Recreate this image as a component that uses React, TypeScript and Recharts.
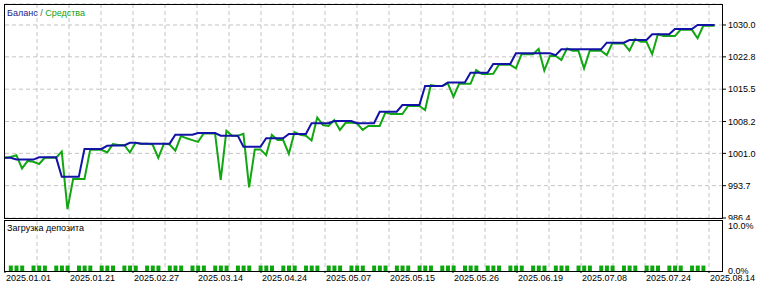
import React from "react";
import { LineChart, Line, XAxis, YAxis, CartesianGrid, BarChart, Bar } from "recharts";

// ---- data ----
const balance = [
  1000.0, 1000.0, 999.6, 999.6, 999.6, 999.6, 1000.1, 1000.1, 1000.1, 1000.1,
  995.7, 995.7, 995.7, 995.7, 1002.0, 1002.0, 1002.0, 1002.0, 1002.7, 1002.8,
  1002.8, 1002.8, 1003.4, 1003.4, 1003.2, 1003.2, 1003.2, 1003.2, 1003.2, 1003.2,
  1005.2, 1005.2, 1005.2, 1005.2, 1005.6, 1005.6, 1005.6, 1005.6, 1005.0, 1005.0,
  1005.0, 1005.0, 1002.5, 1002.5, 1002.5, 1002.5, 1004.4, 1004.4, 1004.4, 1004.4,
  1005.4, 1005.4, 1005.4, 1005.4, 1007.8, 1007.8, 1007.8, 1007.8, 1008.3, 1008.3,
  1008.3, 1008.3, 1007.8, 1007.8, 1007.8, 1007.8, 1010.4, 1010.4, 1010.4, 1010.4,
  1011.9, 1011.9, 1011.9, 1011.9, 1016.2, 1016.2, 1016.2, 1016.2, 1017.0, 1017.0,
  1017.0, 1017.0, 1019.2, 1019.2, 1019.2, 1019.2, 1021.2, 1021.2, 1021.2, 1021.2,
  1023.6, 1023.6, 1023.6, 1023.6, 1023.6, 1023.6, 1023.6, 1023.2, 1024.5, 1024.5,
  1024.5, 1024.5, 1024.5, 1024.5, 1024.5, 1024.5, 1026.0, 1026.0, 1026.0, 1026.0,
  1026.6, 1026.6, 1026.6, 1026.6, 1027.9, 1027.9, 1027.9, 1027.9, 1029.1, 1029.1,
  1029.1, 1029.1, 1030.0, 1030.0, 1030.0, 1030.0,
];

const equity = [
  1000.0, 1000.2, 1000.6, 997.6, 999.3, 999.1, 998.6, 1000.0, 1000.0, 1000.0,
  1001.4, 988.4, 995.2, 995.2, 995.2, 1001.8, 1001.8, 1001.8, 1001.2, 1003.1,
  1002.9, 1002.9, 1001.2, 1003.4, 1003.2, 1003.2, 1003.0, 1000.0, 1003.2, 1003.0,
  1001.6, 1004.9, 1004.4, 1004.0, 1003.6, 1005.5, 1005.5, 1005.5, 995.0, 1006.1,
  1005.0, 1005.0, 1005.4, 993.3, 1001.9, 1001.9, 1000.6, 1005.2, 1004.0, 1004.0,
  1000.9, 1005.8, 1005.2, 1005.0, 1003.9, 1009.1, 1007.4, 1007.2, 1008.5, 1006.3,
  1007.9, 1007.9, 1007.8, 1006.3, 1007.2, 1007.2, 1007.2, 1010.2, 1009.9, 1009.9,
  1009.9, 1011.7, 1011.7, 1011.7, 1010.8, 1016.4, 1016.2, 1016.2, 1016.8, 1013.8,
  1016.7, 1016.7, 1016.7, 1019.8, 1018.9, 1018.9, 1019.0, 1021.0, 1021.0, 1021.0,
  1020.2, 1023.4, 1023.4, 1023.4, 1024.6, 1019.7, 1023.0, 1023.0, 1022.1, 1024.7,
  1024.2, 1024.2, 1020.2, 1024.2, 1024.2, 1024.2, 1023.2, 1025.9, 1025.8, 1025.8,
  1024.2, 1026.8, 1026.2, 1026.2, 1023.4, 1027.9, 1027.5, 1027.5, 1027.5, 1028.9,
  1028.9, 1028.9, 1027.0, 1029.8, 1029.8, 1029.8,
];

const depositLoad = [
  0,
  1.2, 1.2, 1.2, 0, 1.2, 1.2, 1.2, 0, 1.2, 1.2, 1.2, 0, 1.2, 1.2, 1.2, 0,
  1.2, 1.2, 1.2, 0, 1.2, 1.2, 1.2, 0, 1.2, 1.2, 1.2, 0, 1.2, 1.2, 1.2, 0,
  1.2, 1.2, 1.2, 0, 1.2, 1.2, 1.2, 0, 1.2, 1.2, 1.2, 0, 1.2, 1.2, 1.2, 0,
  1.2, 1.2, 1.2, 0, 1.2, 1.2, 1.2, 0, 1.2, 1.2, 1.2, 0, 1.2, 1.2, 1.2, 0,
  1.2, 1.2, 1.2, 0, 1.2, 1.2, 1.2, 0, 1.2, 1.2, 1.2, 0, 1.2, 1.2, 1.2, 0,
  1.2, 1.2, 1.2, 0, 1.2, 1.2, 1.2, 0, 1.2, 1.2, 1.2, 0, 1.2, 1.2, 1.2, 0,
  1.2, 1.2, 1.2, 0, 1.2, 1.2, 1.2, 0, 1.2, 1.2, 1.2, 0, 1.2, 1.2, 1.2, 0,
  1.2, 1.2, 1.2, 0, 1.2, 1.2, 1.2, 0, 1.2, 1.2, 1.2, 0,
  0,
];

const dateLabels = [
  "2025.01.01", "2025.01.21", "2025.02.27", "2025.03.14", "2025.04.24", "2025.05.07",
  "2025.05.15", "2025.05.26", "2025.06.19", "2025.07.08", "2025.07.24", "2025.08.14",
];

const priceTicks = [986.4, 993.7, 1001.0, 1008.2, 1015.5, 1022.8, 1030.0];
const loadTicks = [0, 10];

// ---- layout ----
const WIDTH = 768;
const PLOT_LEFT = 5;
const PLOT_RIGHT = 722;
const AXIS_W = WIDTH - PLOT_RIGHT;
const X_MAX = 126.3;
const GRID_STEP_PX = 32;
const LABEL_STEP_PX = 64;
const FONT = "'Liberation Sans', Arial, sans-serif";
const BLUE = "#1212a6";
const GREEN = "#12a612";
const GRID = "#c4c4c4";

const mainData = balance.map((b, i) => ({ i, balance: b, equity: equity[i] }));
const loadData = depositLoad.map((v, i) => ({ i, load: v }));

const unitsPerPx = X_MAX / (PLOT_RIGHT - PLOT_LEFT);
const gridXs: number[] = [];
for (let px = PLOT_LEFT + GRID_STEP_PX; px < PLOT_RIGHT; px += GRID_STEP_PX) gridXs.push(px);
const labelTicks = dateLabels.map((_, n) => n * LABEL_STEP_PX * unitsPerPx);

const DateTick = (props: any) => {
  const { x, y, index } = props;
  return (
    <text x={x + 1} y={y + 8} fontSize={9} fontFamily={FONT} fill="#000">
      {dateLabels[index]}
    </text>
  );
};

const axisTick = { fill: "#000", fontSize: 9, fontFamily: FONT };

export default function App() {
  return (
    <div
      style={{
        position: "absolute",
        left: 0,
        top: 0,
        width: WIDTH,
        height: 288,
        background: "#fff",
        overflow: "hidden",
      }}
    >
      <div style={{ position: "absolute", left: 0, top: 0 }}>
        <LineChart
          width={WIDTH}
          height={220}
          data={mainData}
          margin={{ top: 4, right: 0, bottom: 2, left: PLOT_LEFT }}
        >
          <CartesianGrid stroke={GRID} strokeDasharray="4 3" verticalPoints={gridXs} />
          <XAxis type="number" dataKey="i" domain={[0, X_MAX]} hide />
          <YAxis
            orientation="right"
            width={AXIS_W}
            type="number"
            domain={[986.4, 1034.74]}
            ticks={priceTicks}
            interval={0}
            axisLine={false}
            tickLine={{ stroke: "#000" }}
            tickSize={4}
            tickMargin={2}
            tick={axisTick}
            tickFormatter={(v: number) => v.toFixed(1)}
          />
          <Line
            type="linear"
            dataKey="equity"
            stroke={GREEN}
            strokeWidth={2}
            dot={false}
            isAnimationActive={false}
          />
          <Line
            type="linear"
            dataKey="balance"
            stroke={BLUE}
            strokeWidth={2}
            dot={false}
            isAnimationActive={false}
          />
        </LineChart>
      </div>

      <div style={{ position: "absolute", left: 0, top: 220, background: "#fff" }}>
        <BarChart
          width={WIDTH}
          height={68}
          data={loadData}
          margin={{ top: 1, right: 0, bottom: 0, left: PLOT_LEFT }}
        >
          <CartesianGrid
            horizontal={false}
            stroke={GRID}
            strokeDasharray="4 3"
            verticalPoints={gridXs}
          />
          <XAxis
            type="number"
            dataKey="i"
            domain={[0, X_MAX]}
            ticks={labelTicks}
            interval={0}
            height={17}
            axisLine={false}
            tickLine={{ stroke: "#000" }}
            tickSize={2}
            tickMargin={0}
            tick={<DateTick />}
          />
          <YAxis
            orientation="right"
            width={AXIS_W}
            type="number"
            domain={[0, 11]}
            ticks={loadTicks}
            interval={0}
            axisLine={false}
            tickLine={false}
            tickSize={4}
            tickMargin={2}
            tick={axisTick}
            tickFormatter={(v: number) => v.toFixed(1) + "%"}
          />
          <Bar dataKey="load" fill="#0ea60e" barSize={4} isAnimationActive={false} />
        </BarChart>
      </div>

      {/* panel borders */}
      <div
        style={{
          position: "absolute",
          left: 4,
          top: 4,
          width: 719,
          height: 215,
          border: "1px solid #000",
          boxSizing: "border-box",
          pointerEvents: "none",
        }}
      />
      <div
        style={{
          position: "absolute",
          left: 4,
          top: 220,
          width: 719,
          height: 52,
          border: "1px solid #000",
          boxSizing: "border-box",
          pointerEvents: "none",
        }}
      />

      {/* titles */}
      <div
        style={{
          position: "absolute",
          left: 7,
          top: 8,
          fontFamily: FONT,
          fontSize: 9,
          lineHeight: "10px",
          whiteSpace: "nowrap",
        }}
      >
        <span style={{ color: "#1a1a8c" }}>Баланс</span>
        <span style={{ color: "#555" }}> / </span>
        <span style={{ color: "#10a010" }}>Средства</span>
      </div>
      <div
        style={{
          position: "absolute",
          left: 7,
          top: 223,
          fontFamily: FONT,
          fontSize: 9,
          lineHeight: "10px",
          color: "#000",
          whiteSpace: "nowrap",
        }}
      >
        Загрузка депозита
      </div>
    </div>
  );
}
